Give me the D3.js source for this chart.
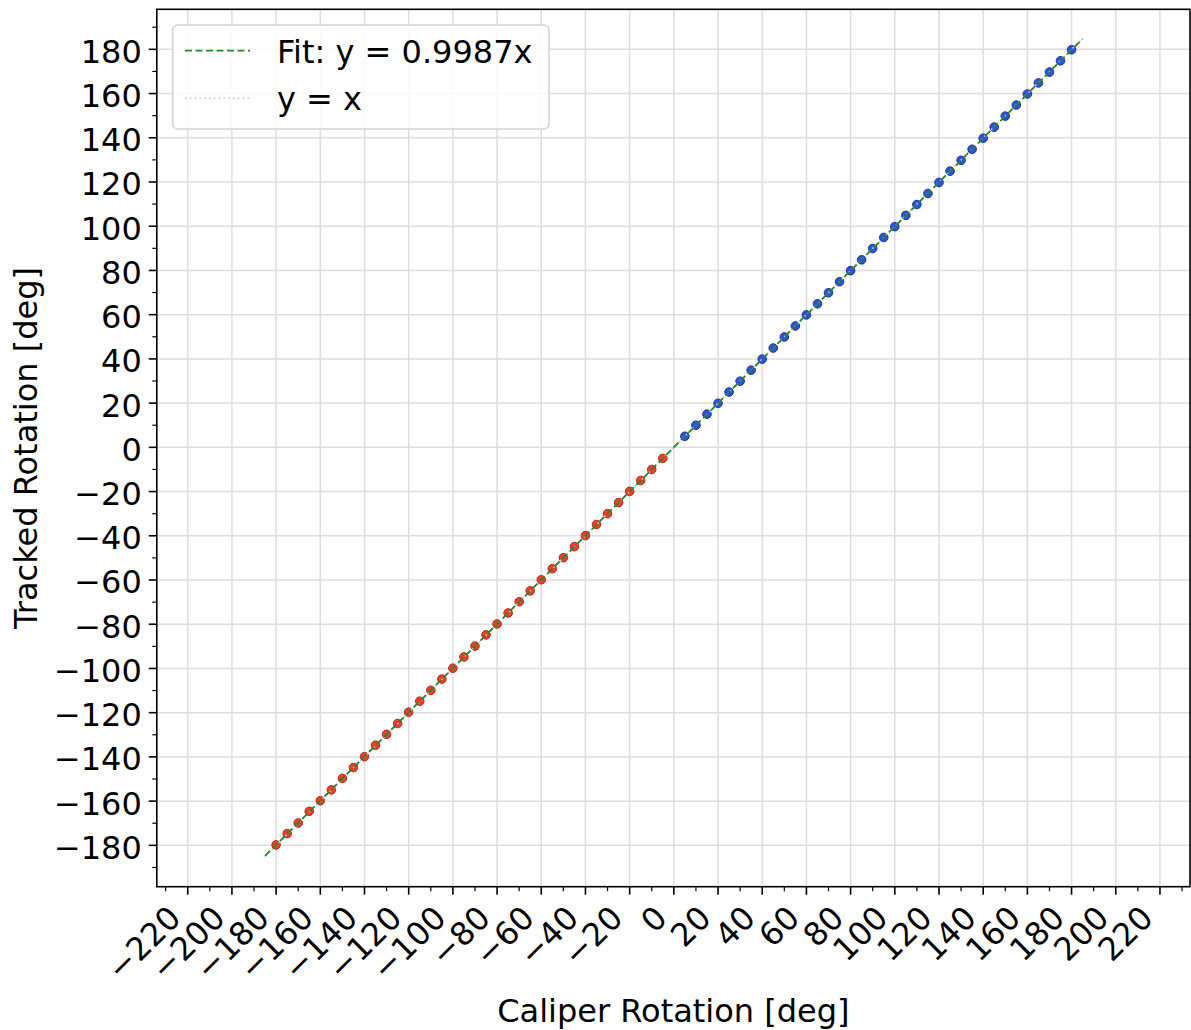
<!DOCTYPE html>
<html>
<head>
<meta charset="utf-8">
<script src="https://cdn.jsdelivr.net/npm/d3@7"></script>
<style>
  body { margin: 0; background: #fff; }
  text { font-family: "DejaVu Sans", sans-serif; fill: #000; }
</style>
</head>
<body>
<svg width="1191" height="1030"></svg>
<script>
// Data
const caliperNeg = [-180, -175, -170, -165, -160, -155, -150, -145, -140, -135, -130, -125,
  -120, -115, -110, -105, -100, -95, -90, -85, -80, -75, -70, -65,
  -60, -55, -50, -45, -40, -35, -30, -25, -20, -15, -10, -5];
const trackedNeg = [-179.8, -174.7, -169.9, -164.6, -159.8, -154.9, -149.7, -144.8, -139.9, -134.7, -129.8, -124.9,
  -119.8, -114.8, -109.9, -104.8, -99.9, -94.8, -89.9, -84.8, -79.9, -74.9, -69.8, -64.9,
  -59.9, -54.9, -49.9, -44.9, -39.9, -34.9, -30.0, -25.0, -19.9, -15.0, -10.0, -5.0];
const caliperPos = [5, 10, 15, 20, 25, 30, 35, 40, 45, 50, 55, 60,
  65, 70, 75, 80, 85, 90, 95, 100, 105, 110, 115, 120,
  125, 130, 135, 140, 145, 150, 155, 160, 165, 170, 175, 180];
const trackedPos = [5.0, 10.0, 15.0, 19.9, 25.0, 29.9, 34.9, 39.9, 44.9, 49.9, 54.9, 59.9,
  64.9, 69.9, 74.9, 79.9, 84.8, 89.9, 94.9, 99.8, 104.9, 109.8, 114.8, 119.8,
  124.9, 129.8, 134.8, 139.8, 144.8, 149.8, 154.8, 159.8, 164.8, 169.7, 174.8, 179.8];
const fitSlope = 0.9987;
const lineExtent = [-185, 185];
const legendLabels = ["Fit: y = 0.9987x", "y = x"];
const xTicks = [-220, -200, -180, -160, -140, -120, -100, -80, -60, -40, -20, 0, 20, 40, 60, 80, 100, 120, 140, 160, 180, 200, 220];
const yTicks = [-180, -160, -140, -120, -100, -80, -60, -40, -20, 0, 20, 40, 60, 80, 100, 120, 140, 160, 180];
const xMinor = [-230, -210, -190, -170, -150, -130, -110, -90, -70, -50, -30, -10, 10, 30, 50, 70, 90, 110, 130, 150, 170, 190, 210, 230];
const yMinor = [-190, -170, -150, -130, -110, -90, -70, -50, -30, -10, 10, 30, 50, 70, 90, 110, 130, 150, 170, 190];

const svg = d3.select("svg");
const fs = 32;
const box = { left: 156.8, right: 1190, top: 9.3, bottom: 886.7 };

// equal aspect, same px per degree on both axes
const x = d3.scaleLinear().domain([-234, 233.6]).range([box.left, box.right]);
const y = d3.scaleLinear().domain([-198.7, 198.1]).range([box.bottom, box.top]);

// grid
const grid = svg.append("g");
grid.selectAll(".vx").data(xTicks).enter().append("line")
  .attr("x1", d => x(d)).attr("x2", d => x(d))
  .attr("y1", box.top).attr("y2", box.bottom)
  .attr("stroke", "#dedede").attr("stroke-width", 1.5);
grid.selectAll(".hy").data(yTicks).enter().append("line")
  .attr("y1", d => y(d)).attr("y2", d => y(d))
  .attr("x1", box.left).attr("x2", box.right)
  .attr("stroke", "#dedede").attr("stroke-width", 1.5);

// scatter points
svg.append("g").selectAll("circle").data(caliperNeg.map((c, i) => [c, trackedNeg[i]]))
  .enter().append("circle")
  .attr("cx", d => x(d[0])).attr("cy", d => y(d[1])).attr("r", 4.3)
  .attr("fill", "#e8402c").attr("stroke", "#b32a1c").attr("stroke-width", 1);
svg.append("g").selectAll("circle").data(caliperPos.map((c, i) => [c, trackedPos[i]]))
  .enter().append("circle")
  .attr("cx", d => x(d[0])).attr("cy", d => y(d[1])).attr("r", 4.3)
  .attr("fill", "#2f52de").attr("stroke", "#1c2fa0").attr("stroke-width", 1);

// y = x reference and fit line
const line = d3.line().x(d => x(d[0])).y(d => y(d[1]));
svg.append("path").datum(lineExtent.map(v => [v, v]))
  .attr("d", line).attr("fill", "none")
  .attr("stroke", "#c8c8c8").attr("stroke-width", 1.6).attr("stroke-dasharray", "1.6,3.2");
svg.append("path").datum(lineExtent.map(v => [v, v * fitSlope]))
  .attr("d", line).attr("fill", "none")
  .attr("stroke", "#1f8a1f").attr("stroke-width", 1.8).attr("stroke-dasharray", "7,3.5");

// spines
svg.append("rect")
  .attr("x", box.left).attr("y", box.top)
  .attr("width", box.right - box.left).attr("height", box.bottom - box.top)
  .attr("fill", "none").attr("stroke", "#000").attr("stroke-width", 1.6);

// ticks
const ticks = svg.append("g").attr("stroke", "#000");
ticks.selectAll(".xm").data(xTicks).enter().append("line")
  .attr("x1", d => x(d)).attr("x2", d => x(d))
  .attr("y1", box.bottom).attr("y2", box.bottom + 8).attr("stroke-width", 1.6);
ticks.selectAll(".xn").data(xMinor).enter().append("line")
  .attr("x1", d => x(d)).attr("x2", d => x(d))
  .attr("y1", box.bottom).attr("y2", box.bottom + 4.5).attr("stroke-width", 1.2);
ticks.selectAll(".ym").data(yTicks).enter().append("line")
  .attr("y1", d => y(d)).attr("y2", d => y(d))
  .attr("x1", box.left).attr("x2", box.left - 8).attr("stroke-width", 1.6);
ticks.selectAll(".yn").data(yMinor).enter().append("line")
  .attr("y1", d => y(d)).attr("y2", d => y(d))
  .attr("x1", box.left).attr("x2", box.left - 4.5).attr("stroke-width", 1.2);

const fmt = d3.format("d");

// y tick labels
svg.append("g").selectAll("text").data(yTicks).enter().append("text")
  .attr("x", box.left - 15).attr("y", d => y(d))
  .attr("dy", "0.42em")
  .attr("text-anchor", "end").style("font-size", fs + "px")
  .text(d => fmt(d));

// x tick labels, rotated 45 deg, right edge of rotated box at the tick
const asc = 0.76 * fs, desc = 0.223 * fs, k = Math.SQRT1_2;
const y0 = box.bottom + 8 + 8;
svg.append("g").selectAll("text").data(xTicks).enter().append("text")
  .attr("transform", d => `translate(${x(d) - k * desc},${y0 + k * asc}) rotate(-45)`)
  .attr("text-anchor", "end").style("font-size", fs + "px")
  .text(d => fmt(d));

// axis labels
svg.append("text")
  .attr("x", (box.left + box.right) / 2).attr("y", 1022)
  .attr("text-anchor", "middle").style("font-size", fs + "px")
  .text("Caliper Rotation [deg]");
svg.append("text")
  .attr("transform", `translate(37,${(box.top + box.bottom) / 2}) rotate(-90)`)
  .attr("text-anchor", "middle").style("font-size", fs + "px")
  .text("Tracked Rotation [deg]");

// legend
const lg = svg.append("g");
lg.append("rect")
  .attr("x", 172.7).attr("y", 25).attr("width", 376.3).attr("height", 104)
  .attr("rx", 5).attr("fill", "#fff").attr("fill-opacity", 0.85)
  .attr("stroke", "#d4d4d4").attr("stroke-width", 1.6);
const rows = [
  { label: legendLabels[0], stroke: "#1f8a1f", dash: "7,3.5", w: 1.8 },
  { label: legendLabels[1], stroke: "#c8c8c8", dash: "1.6,3.2", w: 1.6 }
];
rows.forEach((r, i) => {
  const cy = 50.7 + i * 47.6;
  lg.append("line")
    .attr("x1", 185).attr("x2", 250).attr("y1", cy).attr("y2", cy)
    .attr("stroke", r.stroke).attr("stroke-width", r.w).attr("stroke-dasharray", r.dash);
  lg.append("text")
    .attr("x", 277).attr("y", cy + 12)
    .style("font-size", fs + "px")
    .text(r.label);
});
</script>
</body>
</html>
